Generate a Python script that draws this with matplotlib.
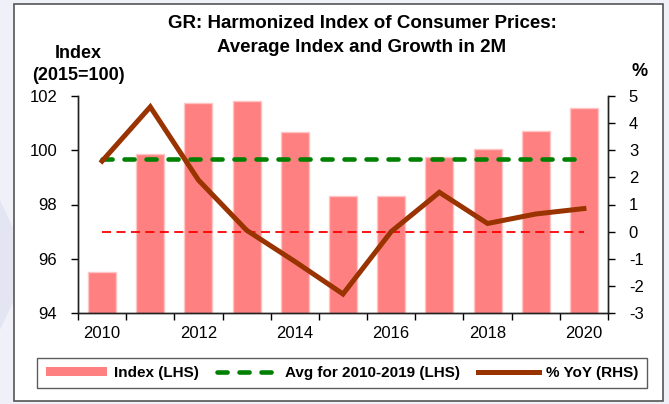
import matplotlib
matplotlib.use("Agg")
import matplotlib.pyplot as plt
from matplotlib.patches import Rectangle, Polygon
from matplotlib.lines import Line2D
import numpy as np

plt.rcParams['font.family'] = ['Liberation Sans', 'DejaVu Sans']
plt.rcParams['axes.unicode_minus'] = False

# data
years = [2010, 2011, 2012, 2013, 2014, 2015, 2016, 2017, 2018, 2019, 2020]
index_vals = [95.52, 99.87, 101.75, 101.82, 100.67, 98.33, 98.31, 99.76, 100.05, 100.71, 101.57]
yoy_vals = [2.6, 4.6, 1.9, 0.05, -1.1, -2.3, 0.0, 1.45, 0.3, 0.65, 0.85]
avg_2010_2019 = 99.68
year_labels = ['2010', '2012', '2014', '2016', '2018', '2020']

W, H = 669, 404
fig = plt.figure(figsize=(W / 100, H / 100), dpi=100)
fig.patch.set_facecolor('#eff0f8')

# background wedge + outer white frame
fig.patches.append(Polygon([[0, 1 - 200 / H], [14 / W, 1 - 230 / H], [14 / W, 1 - 300 / H], [0, 1 - 330 / H]],
                           closed=True, transform=fig.transFigure, facecolor='#e4e5f2',
                           edgecolor='none', zorder=-2))
fig.patches.append(Rectangle((14 / W, 1 - 401 / H), (663 - 14) / W, (401 - 4) / H,
                             transform=fig.transFigure, facecolor='white',
                             edgecolor='#555555', lw=1.2, zorder=-1))

ax = fig.add_axes([78 / W, 1 - 313 / H, (608 - 78) / W, (313 - 96) / H])
ax2 = ax.twinx()

x = np.arange(len(years))
ax.bar(x, index_vals, width=0.58, color='#ff8080', edgecolor='#ffc4c4', lw=1, zorder=2)
ax.set_ylim(94, 102)
ax.set_yticks([94, 96, 98, 100, 102])
ax.set_xlim(-0.5, len(years) - 0.5)
ax.set_xticks(np.arange(-0.5, len(years), 1.0))
ax.set_xticklabels([])
ax.set_xticks(x[::2], minor=True)
ax.set_xticklabels(year_labels, minor=True)
ax.tick_params(axis='x', which='minor', length=0, pad=9, labelsize=12)
ax.tick_params(axis='x', which='major', direction='out', length=5, width=1)
ax.tick_params(axis='y', direction='out', length=5, width=1, labelsize=12, pad=10)

# lines on the twin axis so they sit above the bars
# LHS 94..102 maps onto RHS -3..5, so LHS value v sits at v - 97 on the RHS
ax2.plot(x, [0] * len(x), color='#ff0000', lw=1.3, ls=(0, (5, 3)), zorder=3)
ax2.plot(x, [avg_2010_2019 - 97] * len(x), color='#008000', lw=3.3, ls=(0, (2.2, 2.6)),
         dash_capstyle='round', zorder=4)
ax2.plot(x, yoy_vals, color='#993300', lw=3.6, solid_joinstyle='miter', zorder=5)
ax2.set_ylim(-3, 5)
ax2.set_yticks(range(-3, 6))
ax2.tick_params(axis='y', direction='out', length=5, width=1, labelsize=12, pad=10)

for a in (ax, ax2):
    a.spines['top'].set_visible(False)
    for s in ('left', 'right', 'bottom'):
        a.spines[s].set_color('#222222')
        a.spines[s].set_linewidth(1)
ax.set_facecolor('white')
ax2.patch.set_visible(False)

fig.text(362 / W, 1 - 23 / H, 'GR: Harmonized Index of Consumer Prices:', ha='center', va='center',
         fontsize=13.5, fontweight='bold')
fig.text(362 / W, 1 - 47 / H, 'Average Index and Growth in 2M', ha='center', va='center',
         fontsize=13.5, fontweight='bold')
fig.text(78 / W, 1 - 53 / H, 'Index', ha='center', va='center', fontsize=13, fontweight='bold')
fig.text(78 / W, 1 - 75 / H, '(2015=100)', ha='center', va='center', fontsize=13, fontweight='bold')
fig.text(640 / W, 1 - 72 / H, '%', ha='center', va='center', fontsize=13, fontweight='bold')

handles = [
    Rectangle((0, 0), 1, 1, facecolor='#ff8080', edgecolor='none'),
    Line2D([], [], color='#008000', lw=3.3, ls=(0, (2.2, 2.6)), dash_capstyle='round'),
    Line2D([], [], color='#993300', lw=3.6),
]
labels = ['Index (LHS)', 'Avg for 2010-2019 (LHS)', '% YoY (RHS)']
leg = fig.legend(handles, labels, loc='center', bbox_to_anchor=(342 / W, 1 - 373 / H),
                 ncol=3, frameon=True, fancybox=False, edgecolor='#333333',
                 prop={'size': 11, 'weight': 'bold'}, handlelength=4.0, handleheight=0.5,
                 handletextpad=0.45, columnspacing=1.2, borderpad=0.55, borderaxespad=0)
leg.get_frame().set_linewidth(1)

fig.savefig('out.png', dpi=100, facecolor=fig.get_facecolor())
